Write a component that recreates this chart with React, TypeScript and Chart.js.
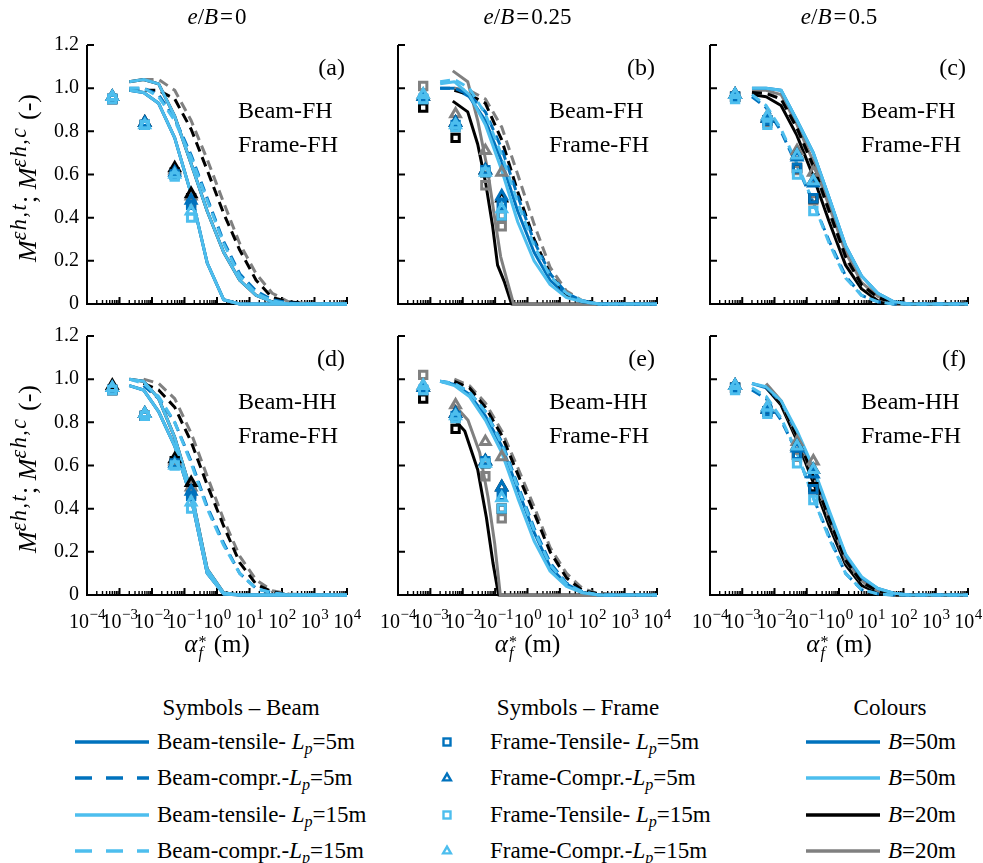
import React, { useEffect, useRef } from "react";
import { Chart, registerables } from "chart.js";

Chart.register(...registerables);

// ---------- colours ----------
const DARK_BLUE = "#0072BD";
const LIGHT_BLUE = "#4DBEEE";
const BLACK = "#000000";
const GREY = "#808080";
const SERIF = "'Liberation Serif', 'DejaVu Serif', serif";

// ---------- axes ----------
const X_MIN = 1e-4;
const X_MAX = 1e4;
const Y_MIN = 0;
const Y_MAX = 1.2;
const X_DECADES = [-4, -3, -2, -1, 0, 1, 2, 3, 4];
const Y_TICKS = [0, 0.2, 0.4, 0.6, 0.8, 1.0, 1.2];
const Y_TICK_LABELS = ["0", "0.2", "0.4", "0.6", "0.8", "1.0", "1.2"];

// ---------- panel captions ----------
const E_OVER_B = ["0", "0.25", "0.5"];
const PANEL_LETTERS = ["(a)", "(b)", "(c)", "(d)", "(e)", "(f)"];
const BEAM_SUPPORT = ["Beam-FH", "Beam-FH", "Beam-FH", "Beam-HH", "Beam-HH", "Beam-HH"];
const FRAME_SUPPORT = ["Frame-FH", "Frame-FH", "Frame-FH", "Frame-FH", "Frame-FH", "Frame-FH"];

// ---------- sampling positions alpha_f* (m) ----------
const ALPHA_BEAM = [0.002, 0.0055, 0.016, 0.05, 0.16, 0.5, 1.6, 5, 16, 50, 160, 1000, 10000];
const ALPHA_FRAME = [0.0006, 0.006, 0.05, 0.16];

// ---------- (a) e/B=0, Beam-FH ----------
const A_T15_B50 = [0.99, 0.98, 0.93, 0.77, 0.51, 0.19, 0.02, 0, 0, 0, 0, 0, 0];
const A_T15_B50_UP = [1.03, 1.04, 1.02, 0.87, 0.65, 0.43, 0.24, 0.11, 0.04, 0.01, 0, 0, 0];
const A_T5_B50 = [0.99, 0.98, 0.93, 0.77, 0.51, 0.19, 0.02, 0, 0, 0, 0, 0, 0];
const A_T5_B20 = [1.03, 1.04, 1.02, 0.87, 0.65, 0.43, 0.24, 0.11, 0.04, 0.01, 0, 0, 0];
const A_T15_B20 = [0.99, 0.98, 0.93, 0.77, 0.51, 0.19, 0.02, 0, 0, 0, 0, 0, 0];
const A_C5_B50 = [1.0, 1.0, 0.97, 0.86, 0.69, 0.49, 0.29, 0.14, 0.06, 0.02, 0.005, 0, 0];
const A_C15_B50 = [1.0, 1.0, 0.96, 0.85, 0.68, 0.48, 0.28, 0.13, 0.05, 0.015, 0, 0, 0];
const A_C5_B20 = [0.99, 0.99, 0.99, 0.95, 0.81, 0.62, 0.42, 0.25, 0.11, 0.03, 0.01, 0, 0];
const A_C15_B20 = [null, 1.04, 1.04, 0.99, 0.85, 0.67, 0.47, 0.28, 0.14, 0.05, 0.01, 0, 0];
const A_FT15_B20 = [0.95, 0.83, 0.6, 0.47];
const A_FT5_B20 = [0.95, 0.83, 0.61, 0.49];
const A_FC15_B20 = [0.96, 0.84, 0.62, 0.5];
const A_FC5_B20 = [0.96, 0.84, 0.63, 0.51];
const A_FT5_B50 = [0.95, 0.83, 0.6, 0.46];
const A_FC5_B50 = [0.96, 0.84, 0.61, 0.48];
const A_FT15_B50 = [0.95, 0.83, 0.59, 0.4];
const A_FC15_B50 = [0.96, 0.83, 0.6, 0.43];

// ---------- (b) e/B=0.25, Beam-FH ----------
const B_T5_B20_X = [0.00492, 0.01425, 0.029, 0.0511, 0.0838, 0.119, 0.196, 0.322, 10000];
const B_T5_B20 = [0.94, 0.89, 0.74, 0.56, 0.36, 0.18, 0.1, 0, 0];
const B_T15_B20_X = [0.00492, 0.01425, 0.029, 0.0588, 0.0966, 0.148, 0.243, 0.371, 10000];
const B_T15_B20 = [1.08, 1.03, 0.85, 0.62, 0.4, 0.22, 0.1, 0, 0];
const B_T15_B50 = [1.02, 1.03, 0.97, 0.83, 0.62, 0.38, 0.2, 0.09, 0.03, 0.01, 0, 0, 0];
const B_T5_B50 = [1.0, 1.0, 0.96, 0.85, 0.66, 0.43, 0.24, 0.11, 0.04, 0.01, 0, 0, 0];
const B_C15_B50 = [1.03, 1.04, 1.0, 0.88, 0.69, 0.47, 0.27, 0.13, 0.05, 0.015, 0, 0, 0];
const B_C5_B50 = [1.0, 1.0, 0.97, 0.89, 0.72, 0.5, 0.29, 0.14, 0.05, 0.015, 0, 0, 0];
const B_C5_B20 = [null, 0.99, 0.97, 0.93, 0.76, 0.52, 0.3, 0.14, 0.04, 0.01, 0, 0, 0];
const B_C15_B20 = [null, 1.0, 0.99, 0.95, 0.82, 0.6, 0.37, 0.17, 0.06, 0.015, 0, 0, 0];
const B_FT15_B20 = [1.01, 0.82, 0.55, 0.36];
const B_FT5_B20 = [0.91, 0.77, 0.61, 0.41];
const B_FC15_B20 = [0.97, 0.88, 0.71, 0.61];
const B_FC5_B20 = [0.96, 0.84, 0.62, 0.49];
const B_FT5_B50 = [0.95, 0.83, 0.62, 0.46];
const B_FC5_B50 = [0.96, 0.84, 0.62, 0.5];
const B_FT15_B50 = [0.95, 0.82, 0.61, 0.41];
const B_FC15_B50 = [0.97, 0.83, 0.61, 0.44];

// ---------- (c) e/B=0.5, Beam-FH ----------
const C_T15_B50 = [1.0, 1.0, 0.99, 0.85, 0.7, 0.49, 0.27, 0.13, 0.05, 0.01, 0, 0, 0];
const C_T5_B50 = [1.0, 1.0, 0.99, 0.85, 0.7, 0.49, 0.27, 0.13, 0.05, 0.01, 0, 0, 0];
const C_T15_B20 = [0.99, 0.99, 0.97, 0.83, 0.66, 0.45, 0.24, 0.1, 0.035, 0.006, 0, 0, 0];
const C_T5_B20 = [0.97, 0.96, 0.92, 0.78, 0.59, 0.38, 0.18, 0.07, 0.015, 0, 0, 0, 0];
const C_C15_B20 = [0.98, 0.98, 0.95, 0.81, 0.63, 0.42, 0.21, 0.09, 0.025, 0.004, 0, 0, 0];
const C_C5_B20 = [0.98, 0.975, 0.95, 0.815, 0.64, 0.43, 0.22, 0.09, 0.03, 0.005, 0, 0, 0];
const C_C5_B50 = [0.96, 0.91, 0.8, 0.64, 0.47, 0.29, 0.13, 0.04, 0.01, 0, 0, 0, 0];
const C_C15_B50 = [0.97, 0.92, 0.81, 0.65, 0.47, 0.28, 0.12, 0.04, 0.01, 0, 0, 0, 0];
const C_FT15_B20 = [0.96, 0.84, 0.62, 0.48];
const C_FT5_B20 = [0.96, 0.85, 0.63, 0.49];
const C_FC15_B20 = [0.97, 0.87, 0.71, 0.61];
const C_FC5_B20 = [0.97, 0.86, 0.69, 0.57];
const C_FT5_B50 = [0.96, 0.85, 0.63, 0.49];
const C_FC5_B50 = [0.97, 0.86, 0.68, 0.56];
const C_FT15_B50 = [0.95, 0.83, 0.6, 0.43];
const C_FC15_B50 = [0.97, 0.87, 0.69, 0.57];

// ---------- (d) e/B=0, Beam-HH ----------
const D_T15_B50 = [0.97, 0.95, 0.85, 0.69, 0.45, 0.1, 0.005, 0, 0, 0, 0, 0, 0];
const D_T15_B50_UP = [1.0, 0.99, 0.91, 0.73, 0.48, 0.12, 0.01, 0, 0, 0, 0, 0, 0];
const D_T5_B50 = [0.97, 0.95, 0.85, 0.69, 0.45, 0.1, 0.005, 0, 0, 0, 0, 0, 0];
const D_T5_B20 = [1.0, 0.99, 0.91, 0.73, 0.48, 0.12, 0.01, 0, 0, 0, 0, 0, 0];
const D_T15_B20 = [0.97, 0.95, 0.85, 0.69, 0.45, 0.1, 0.005, 0, 0, 0, 0, 0, 0];
const D_C5_B50 = [null, 0.97, 0.91, 0.8, 0.62, 0.41, 0.24, 0.1, 0.03, 0.01, 0, 0, 0];
const D_C15_B50 = [1.0, 0.98, 0.92, 0.8, 0.61, 0.4, 0.23, 0.1, 0.03, 0.01, 0, 0, 0];
const D_C5_B20 = [null, 0.98, 0.95, 0.87, 0.71, 0.51, 0.32, 0.15, 0.05, 0.015, 0, 0, 0];
const D_C15_B20 = [null, 1.0, 0.98, 0.91, 0.75, 0.55, 0.35, 0.18, 0.07, 0.02, 0.005, 0, 0];
const D_FT15_B20 = [0.95, 0.83, 0.61, 0.47];
const D_FT5_B20 = [0.95, 0.83, 0.62, 0.49];
const D_FC15_B20 = [0.96, 0.84, 0.62, 0.5];
const D_FC5_B20 = [0.97, 0.84, 0.63, 0.52];
const D_FT5_B50 = [0.95, 0.83, 0.61, 0.46];
const D_FC5_B50 = [0.96, 0.84, 0.61, 0.48];
const D_FT15_B50 = [0.95, 0.83, 0.6, 0.4];
const D_FC15_B50 = [0.96, 0.84, 0.6, 0.43];

// ---------- (e) e/B=0.25, Beam-HH ----------
const E_T5_B20_X = [0.00492, 0.01153, 0.029, 0.0536, 0.0855, 0.128, 10000];
const E_T5_B20 = [0.82, 0.76, 0.58, 0.36, 0.15, 0, 0];
const E_T15_B20_X = [0.00492, 0.01456, 0.0333, 0.06, 0.0966, 0.1445, 10000];
const E_T15_B20 = [0.89, 0.81, 0.66, 0.455, 0.24, 0, 0];
const E_T15_B50 = [0.99, 0.97, 0.92, 0.81, 0.66, 0.45, 0.25, 0.11, 0.04, 0.01, 0, 0, 0];
const E_T5_B50 = [0.99, 0.975, 0.93, 0.83, 0.69, 0.49, 0.29, 0.13, 0.05, 0.012, 0, 0, 0];
const E_C15_B50 = [0.99, 0.98, 0.94, 0.85, 0.7, 0.5, 0.3, 0.14, 0.05, 0.015, 0, 0, 0];
const E_C5_B50 = [0.99, 0.98, 0.94, 0.85, 0.71, 0.51, 0.31, 0.15, 0.055, 0.015, 0, 0, 0];
const E_C5_B20 = [null, 0.99, 0.96, 0.87, 0.74, 0.56, 0.38, 0.2, 0.08, 0.02, 0.005, 0, 0];
const E_C15_B20 = [null, 1.0, 0.97, 0.89, 0.76, 0.59, 0.41, 0.22, 0.1, 0.03, 0.005, 0, 0];
const E_FT15_B20 = [1.02, 0.82, 0.55, 0.355];
const E_FT5_B20 = [0.91, 0.77, 0.61, 0.4];
const E_FC15_B20 = [0.97, 0.88, 0.71, 0.64];
const E_FC5_B20 = [0.96, 0.84, 0.62, 0.5];
const E_FT5_B50 = [0.95, 0.83, 0.62, 0.46];
const E_FC5_B50 = [0.96, 0.84, 0.62, 0.5];
const E_FT15_B50 = [0.95, 0.82, 0.61, 0.4];
const E_FC15_B50 = [0.97, 0.83, 0.61, 0.45];

// ---------- (f) e/B=0.5, Beam-HH ----------
const F_T15_B50 = [0.98, 0.965, 0.9, 0.76, 0.59, 0.39, 0.19, 0.085, 0.03, 0.008, 0, 0, 0];
const F_T5_B50 = [0.98, 0.96, 0.895, 0.75, 0.58, 0.38, 0.185, 0.08, 0.03, 0.008, 0, 0, 0];
const F_T15_B20 = [null, 0.98, 0.9, 0.74, 0.56, 0.36, 0.165, 0.065, 0.02, 0.005, 0, 0, 0];
const F_T5_B20 = [null, 0.96, 0.88, 0.715, 0.52, 0.32, 0.14, 0.045, 0.01, 0, 0, 0, 0];
const F_C5_B20 = [null, 0.965, 0.89, 0.735, 0.55, 0.35, 0.16, 0.06, 0.018, 0, 0, 0, 0];
const F_C15_B20 = [null, 0.97, 0.89, 0.73, 0.545, 0.345, 0.155, 0.058, 0.017, 0, 0, 0, 0];
const F_C5_B50 = [0.95, 0.91, 0.81, 0.66, 0.45, 0.27, 0.1, 0.025, 0.005, 0, 0, 0, 0];
const F_C15_B50 = [0.96, 0.92, 0.82, 0.66, 0.45, 0.26, 0.1, 0.025, 0.005, 0, 0, 0, 0];
const F_FT15_B20 = [0.96, 0.85, 0.64, 0.49];
const F_FT5_B20 = [0.96, 0.85, 0.65, 0.5];
const F_FC15_B20 = [0.97, 0.87, 0.71, 0.62];
const F_FC5_B20 = [0.97, 0.86, 0.69, 0.58];
const F_FT5_B50 = [0.96, 0.85, 0.65, 0.49];
const F_FC5_B50 = [0.97, 0.86, 0.68, 0.56];
const F_FT15_B50 = [0.95, 0.84, 0.61, 0.44];
const F_FC15_B50 = [0.97, 0.87, 0.69, 0.58];

// ---------- page geometry ----------
const COL_LEFT = [87, 398, 710];
const COL_RIGHT = [347, 657, 968];
const ROW_TOP = [45, 336];
const ROW_BOTTOM = [304, 595];
const PAD = { left: 85, right: 28, top: 20, bottom: 48 };

type Curve = { label: string; color: string; dashed: boolean; y: (number | null)[]; x?: number[] };
type Marks = { label: string; color: string; shape: "rect" | "triangle"; y: number[] };
type PanelDef = { index: number; curves: Curve[]; marks: Marks[] };

// curves listed from bottom layer to top layer
function beamCurves(s: any): Curve[] {
  const list: Curve[] = [
    { label: "Beam-tensile Lp=5m B=20m", color: BLACK, dashed: false, y: s.t5b20, x: s.t5b20x },
    { label: "Beam-tensile Lp=15m B=20m", color: GREY, dashed: false, y: s.t15b20, x: s.t15b20x },
    { label: "Beam-tensile Lp=5m B=50m", color: DARK_BLUE, dashed: false, y: s.t5b50 },
    { label: "Beam-compr. Lp=15m B=20m", color: GREY, dashed: true, y: s.c15b20 },
    { label: "Beam-compr. Lp=5m B=20m", color: BLACK, dashed: true, y: s.c5b20 },
    { label: "Beam-compr. Lp=5m B=50m", color: DARK_BLUE, dashed: true, y: s.c5b50 },
    { label: "Beam-compr. Lp=15m B=50m", color: LIGHT_BLUE, dashed: true, y: s.c15b50 },
    { label: "Beam-tensile Lp=15m B=50m", color: LIGHT_BLUE, dashed: false, y: s.t15b50 },
  ];
  if (s.t15b50up) {
    list.push({ label: "Beam-tensile Lp=15m B=50m (upper)", color: LIGHT_BLUE, dashed: false, y: s.t15b50up });
  }
  return list;
}

function frameMarks(s: any): Marks[] {
  return [
    { label: "Frame-Tensile Lp=15m B=20m", color: GREY, shape: "rect", y: s.ft15b20 },
    { label: "Frame-Tensile Lp=5m B=20m", color: BLACK, shape: "rect", y: s.ft5b20 },
    { label: "Frame-Compr. Lp=15m B=20m", color: GREY, shape: "triangle", y: s.fc15b20 },
    { label: "Frame-Compr. Lp=5m B=20m", color: BLACK, shape: "triangle", y: s.fc5b20 },
    { label: "Frame-Tensile Lp=5m B=50m", color: DARK_BLUE, shape: "rect", y: s.ft5b50 },
    { label: "Frame-Compr. Lp=5m B=50m", color: DARK_BLUE, shape: "triangle", y: s.fc5b50 },
    { label: "Frame-Tensile Lp=15m B=50m", color: LIGHT_BLUE, shape: "rect", y: s.ft15b50 },
    { label: "Frame-Compr. Lp=15m B=50m", color: LIGHT_BLUE, shape: "triangle", y: s.fc15b50 },
  ];
}

const PANELS: PanelDef[] = [
  {
    index: 0,
    curves: beamCurves({ t5b20: A_T5_B20, t15b20: A_T15_B20, t5b50: A_T5_B50, c15b20: A_C15_B20, c5b20: A_C5_B20, c5b50: A_C5_B50, c15b50: A_C15_B50, t15b50: A_T15_B50, t15b50up: A_T15_B50_UP }),
    marks: frameMarks({ ft15b20: A_FT15_B20, ft5b20: A_FT5_B20, fc15b20: A_FC15_B20, fc5b20: A_FC5_B20, ft5b50: A_FT5_B50, fc5b50: A_FC5_B50, ft15b50: A_FT15_B50, fc15b50: A_FC15_B50 }),
  },
  {
    index: 1,
    curves: beamCurves({ t5b20: B_T5_B20, t5b20x: B_T5_B20_X, t15b20: B_T15_B20, t15b20x: B_T15_B20_X, t5b50: B_T5_B50, c15b20: B_C15_B20, c5b20: B_C5_B20, c5b50: B_C5_B50, c15b50: B_C15_B50, t15b50: B_T15_B50 }),
    marks: frameMarks({ ft15b20: B_FT15_B20, ft5b20: B_FT5_B20, fc15b20: B_FC15_B20, fc5b20: B_FC5_B20, ft5b50: B_FT5_B50, fc5b50: B_FC5_B50, ft15b50: B_FT15_B50, fc15b50: B_FC15_B50 }),
  },
  {
    index: 2,
    curves: beamCurves({ t5b20: C_T5_B20, t15b20: C_T15_B20, t5b50: C_T5_B50, c15b20: C_C15_B20, c5b20: C_C5_B20, c5b50: C_C5_B50, c15b50: C_C15_B50, t15b50: C_T15_B50 }),
    marks: frameMarks({ ft15b20: C_FT15_B20, ft5b20: C_FT5_B20, fc15b20: C_FC15_B20, fc5b20: C_FC5_B20, ft5b50: C_FT5_B50, fc5b50: C_FC5_B50, ft15b50: C_FT15_B50, fc15b50: C_FC15_B50 }),
  },
  {
    index: 3,
    curves: beamCurves({ t5b20: D_T5_B20, t15b20: D_T15_B20, t5b50: D_T5_B50, c15b20: D_C15_B20, c5b20: D_C5_B20, c5b50: D_C5_B50, c15b50: D_C15_B50, t15b50: D_T15_B50, t15b50up: D_T15_B50_UP }),
    marks: frameMarks({ ft15b20: D_FT15_B20, ft5b20: D_FT5_B20, fc15b20: D_FC15_B20, fc5b20: D_FC5_B20, ft5b50: D_FT5_B50, fc5b50: D_FC5_B50, ft15b50: D_FT15_B50, fc15b50: D_FC15_B50 }),
  },
  {
    index: 4,
    curves: beamCurves({ t5b20: E_T5_B20, t5b20x: E_T5_B20_X, t15b20: E_T15_B20, t15b20x: E_T15_B20_X, t5b50: E_T5_B50, c15b20: E_C15_B20, c5b20: E_C5_B20, c5b50: E_C5_B50, c15b50: E_C15_B50, t15b50: E_T15_B50 }),
    marks: frameMarks({ ft15b20: E_FT15_B20, ft5b20: E_FT5_B20, fc15b20: E_FC15_B20, fc5b20: E_FC5_B20, ft5b50: E_FT5_B50, fc5b50: E_FC5_B50, ft15b50: E_FT15_B50, fc15b50: E_FC15_B50 }),
  },
  {
    index: 5,
    curves: beamCurves({ t5b20: F_T5_B20, t15b20: F_T15_B20, t5b50: F_T5_B50, c15b20: F_C15_B20, c5b20: F_C5_B20, c5b50: F_C5_B50, c15b50: F_C15_B50, t15b50: F_T15_B50 }),
    marks: frameMarks({ ft15b20: F_FT15_B20, ft5b20: F_FT5_B20, fc15b20: F_FC15_B20, fc5b20: F_FC5_B20, ft5b50: F_FT5_B50, fc5b50: F_FC5_B50, ft15b50: F_FT15_B50, fc15b50: F_FC15_B50 }),
  },
];

// axis lines, inward ticks, tick labels and panel captions
function axesPlugin(def: PanelDef) {
  const col = def.index % 3;
  const row = Math.floor(def.index / 3);
  return {
    id: "panelAxes",
    beforeDatasetsDraw(chart: any) {
      const { ctx, chartArea, scales } = chart;
      const { left, right, top, bottom } = chartArea;
      const xs = scales.x;
      const ys = scales.y;
      ctx.save();
      ctx.strokeStyle = "#000";
      ctx.lineWidth = 2;
      ctx.beginPath();
      ctx.moveTo(left, top);
      ctx.lineTo(left, bottom);
      ctx.lineTo(right, bottom);
      ctx.stroke();
      ctx.beginPath();
      for (const v of Y_TICKS) {
        const py = ys.getPixelForValue(v);
        ctx.moveTo(left, py);
        ctx.lineTo(left + 7, py);
      }
      for (const n of X_DECADES) {
        const px = xs.getPixelForValue(Math.pow(10, n));
        ctx.moveTo(px, bottom);
        ctx.lineTo(px, bottom - 7);
      }
      ctx.stroke();
      ctx.lineWidth = 1.4;
      ctx.beginPath();
      for (const n of X_DECADES.slice(0, -1)) {
        for (let m = 2; m <= 9; m++) {
          const px = xs.getPixelForValue(m * Math.pow(10, n));
          ctx.moveTo(px, bottom);
          ctx.lineTo(px, bottom - 4);
        }
      }
      ctx.stroke();
      ctx.restore();
    },
    afterDraw(chart: any) {
      const { ctx, chartArea, scales } = chart;
      const { left, right, top, bottom } = chartArea;
      const xs = scales.x;
      const ys = scales.y;
      ctx.save();
      ctx.fillStyle = "#000";
      if (col === 0) {
        ctx.font = `20px ${SERIF}`;
        ctx.textAlign = "right";
        ctx.textBaseline = "middle";
        Y_TICKS.forEach((v, i) => ctx.fillText(Y_TICK_LABELS[i], left - 8, ys.getPixelForValue(v)));
      }
      if (row === 1) {
        ctx.textAlign = "left";
        ctx.textBaseline = "alphabetic";
        const mainFont = `20px ${SERIF}`;
        const supFont = `15px ${SERIF}`;
        for (const n of X_DECADES) {
          const px = xs.getPixelForValue(Math.pow(10, n));
          const exp = n < 0 ? "\u2212" + Math.abs(n) : String(n);
          ctx.font = mainFont;
          const w1 = ctx.measureText("10").width;
          ctx.font = supFont;
          const w2 = ctx.measureText(exp).width;
          const x0 = px - (w1 + w2) / 2;
          ctx.font = mainFont;
          ctx.fillText("10", x0, bottom + 33);
          ctx.font = supFont;
          ctx.fillText(exp, x0 + w1 + 0.5, bottom + 24);
        }
      }
      ctx.font = `24px ${SERIF}`;
      ctx.textBaseline = "alphabetic";
      ctx.textAlign = "right";
      ctx.fillText(PANEL_LETTERS[def.index], right - 2, top + 30);
      ctx.textAlign = "left";
      ctx.fillText(BEAM_SUPPORT[def.index], left + 151, top + 73);
      ctx.fillText(FRAME_SUPPORT[def.index], left + 151, top + 107);
      ctx.restore();
    },
  };
}

function PanelChart({ def }: { def: PanelDef }) {
  const ref = useRef<HTMLCanvasElement | null>(null);
  const col = def.index % 3;
  const row = Math.floor(def.index / 3);
  const left = COL_LEFT[col];
  const right = COL_RIGHT[col];
  const top = ROW_TOP[row];
  const bottom = ROW_BOTTOM[row];
  const w = right - left + PAD.left + PAD.right;
  const h = bottom - top + PAD.top + PAD.bottom;

  useEffect(() => {
    if (!ref.current) return;
    const lineSets: any[] = def.curves.map((c) => ({
      type: "line",
      label: c.label,
      data: (c.x ?? ALPHA_BEAM)
        .map((x, i) => ({ x, y: c.y[i] }))
        .filter((p) => p.y !== null && p.y !== undefined),
      borderColor: c.color,
      backgroundColor: c.color,
      borderWidth: 3,
      borderDash: c.dashed ? [10, 6] : [],
      borderJoinStyle: "round",
      pointRadius: 0,
      tension: 0,
      fill: false,
      clip: false,
    }));
    const markSets: any[] = def.marks.map((m) => ({
      type: "line",
      label: m.label,
      data: ALPHA_FRAME.map((x, i) => ({ x, y: m.y[i] })),
      showLine: false,
      pointStyle: m.shape,
      pointRadius: m.shape === "rect" ? 5.2 : 5.6,
      pointBorderWidth: 3,
      pointBorderColor: m.color,
      pointBackgroundColor: "rgba(255,255,255,0)",
      borderColor: m.color,
      backgroundColor: "rgba(255,255,255,0)",
      clip: false,
    }));
    const datasets = [...lineSets, ...markSets];
    datasets.forEach((d, i) => {
      d.order = datasets.length - i;
    });

    const chart = new Chart(ref.current, {
      type: "line",
      data: { datasets },
      options: {
        responsive: false,
        animation: false,
        events: [],
        layout: { padding: PAD },
        scales: {
          x: { type: "logarithmic", min: X_MIN, max: X_MAX, display: false },
          y: { type: "linear", min: Y_MIN, max: Y_MAX, display: false },
        },
        plugins: { legend: { display: false }, tooltip: { enabled: false } },
      },
      plugins: [axesPlugin(def)],
    } as any);
    return () => chart.destroy();
  }, [def]);

  return (
    <canvas
      ref={ref}
      width={w}
      height={h}
      style={{ position: "absolute", left: left - PAD.left, top: top - PAD.top, width: w, height: h }}
    />
  );
}

// ---------- text helpers ----------
const SUB = (t: string) => (
  <span style={{ fontSize: "0.7em", fontStyle: "italic", position: "relative", top: "0.3em" }}>{t}</span>
);
const SUP = (t: string) => (
  <span style={{ fontSize: "0.85em", fontStyle: "italic", letterSpacing: "1.5px", position: "relative", top: "-0.45em" }}>{t}</span>
);

function TextAt({ left, baseline, size, center, children }: any) {
  return (
    <div
      style={{
        position: "absolute",
        left,
        top: baseline - 0.8375 * size,
        fontSize: size,
        lineHeight: `${size}px`,
        whiteSpace: "pre",
        transform: center ? "translateX(-50%)" : undefined,
      }}
    >
      {children}
    </div>
  );
}

// ---------- legend ----------
const LEGEND_ROWS = [742, 778, 815, 851];
const BEAM_LEGEND = [
  { prefix: "Beam-tensile- ", value: "=5m", color: DARK_BLUE, dashed: false },
  { prefix: "Beam-compr.-", value: "=5m", color: DARK_BLUE, dashed: true },
  { prefix: "Beam-tensile- ", value: "=15m", color: LIGHT_BLUE, dashed: false },
  { prefix: "Beam-compr.-", value: "=15m", color: LIGHT_BLUE, dashed: true },
];
const FRAME_LEGEND = [
  { prefix: "Frame-Tensile- ", value: "=5m", color: DARK_BLUE, shape: "rect" },
  { prefix: "Frame-Compr.-", value: "=5m", color: DARK_BLUE, shape: "triangle" },
  { prefix: "Frame-Tensile- ", value: "=15m", color: LIGHT_BLUE, shape: "rect" },
  { prefix: "Frame-Compr.-", value: "=15m", color: LIGHT_BLUE, shape: "triangle" },
];
const COLOUR_LEGEND = [
  { value: "=50m", color: DARK_BLUE },
  { value: "=50m", color: LIGHT_BLUE },
  { value: "=20m", color: BLACK },
  { value: "=20m", color: GREY },
];

function LineSample({ x, y, color, dashed }: any) {
  return (
    <svg style={{ position: "absolute", left: x, top: y - 5 }} width={74} height={10}>
      <line x1={0} y1={5} x2={74} y2={5} stroke={color} strokeWidth={3.5} strokeDasharray={dashed ? "17 14" : undefined} />
    </svg>
  );
}

function MarkSample({ x, y, color, shape }: any) {
  return (
    <svg style={{ position: "absolute", left: x - 7, top: y - 7 }} width={14} height={14}>
      {shape === "rect" ? (
        <rect x={3.5} y={3.5} width={7} height={7} fill="none" stroke={color} strokeWidth={2.4} />
      ) : (
        <polygon points="7,2.6 10.9,9.4 3.1,9.4" fill="none" stroke={color} strokeWidth={2.4} strokeLinejoin="miter" />
      )}
    </svg>
  );
}

function Legend() {
  return (
    <>
      <TextAt left={241} baseline={715} size={23} center>
        Symbols – Beam
      </TextAt>
      <TextAt left={578} baseline={715} size={23} center>
        Symbols – Frame
      </TextAt>
      <TextAt left={890} baseline={715} size={23} center>
        Colours
      </TextAt>
      {BEAM_LEGEND.map((r, i) => (
        <React.Fragment key={"b" + i}>
          <LineSample x={75} y={LEGEND_ROWS[i]} color={r.color} dashed={r.dashed} />
          <TextAt left={157} baseline={LEGEND_ROWS[i] + 7.5} size={23}>
            {r.prefix}
            <i>L</i>
            {SUB("p")}
            {r.value}
          </TextAt>
        </React.Fragment>
      ))}
      {FRAME_LEGEND.map((r, i) => (
        <React.Fragment key={"f" + i}>
          <MarkSample x={447} y={LEGEND_ROWS[i]} color={r.color} shape={r.shape} />
          <TextAt left={490} baseline={LEGEND_ROWS[i] + 7.5} size={23}>
            {r.prefix}
            <i>L</i>
            {SUB("p")}
            {r.value}
          </TextAt>
        </React.Fragment>
      ))}
      {COLOUR_LEGEND.map((r, i) => (
        <React.Fragment key={"c" + i}>
          <LineSample x={806} y={LEGEND_ROWS[i]} color={r.color} dashed={false} />
          <TextAt left={888} baseline={LEGEND_ROWS[i] + 7.5} size={23}>
            <i>B</i>
            {r.value}
          </TextAt>
        </React.Fragment>
      ))}
    </>
  );
}

export default function App() {
  return (
    <div
      style={{
        position: "absolute",
        left: 0,
        top: 0,
        width: 983,
        height: 863,
        background: "#fff",
        color: "#000",
        fontFamily: SERIF,
        overflow: "hidden",
      }}
    >
      {PANELS.map((p) => (
        <PanelChart key={p.index} def={p} />
      ))}

      {E_OVER_B.map((v, c) => (
        <TextAt key={"t" + c} left={(COL_LEFT[c] + COL_RIGHT[c]) / 2} baseline={24} size={23} center>
          <i>e</i>/<i>B</i>
          <span style={{ margin: "0 2px" }}>=</span>
          {v}
        </TextAt>
      ))}

      {[0, 1].map((r) => (
        <div
          key={"y" + r}
          style={{
            position: "absolute",
            left: 28,
            top: (ROW_TOP[r] + ROW_BOTTOM[r]) / 2 + 3,
            transform: "translate(-50%, -50%) rotate(-90deg)",
            fontSize: 26,
            lineHeight: "30px",
            whiteSpace: "pre",
          }}
        >
          <i>M</i>
          {SUP("\u03B5h,t")}; <i>M</i>
          {SUP("\u03B5h,c")} (-)
        </div>
      ))}

      {[0, 1, 2].map((c) => (
        <TextAt key={"x" + c} left={(COL_LEFT[c] + COL_RIGHT[c]) / 2} baseline={652} size={25} center>
          <i>α</i>
          <span style={{ display: "inline-block", position: "relative", width: 10, height: 0 }}>
            <span style={{ position: "absolute", left: 1, top: -18, fontSize: 16, lineHeight: "16px" }}>*</span>
            <span style={{ position: "absolute", left: 1, top: -7, fontSize: 16, lineHeight: "16px", fontStyle: "italic" }}>
              f
            </span>
          </span>{" "}
          (m)
        </TextAt>
      ))}

      <Legend />
    </div>
  );
}
